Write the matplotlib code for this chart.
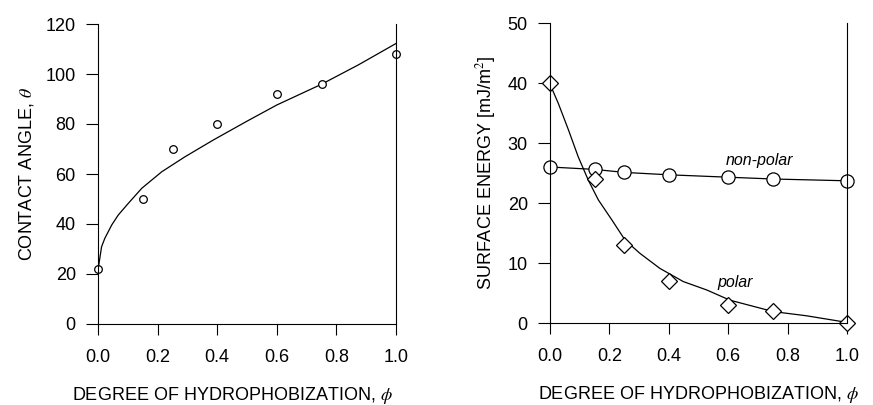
import matplotlib
matplotlib.use("Agg")
import matplotlib.pyplot as plt

plt.rcParams['font.family'] = ['Liberation Sans', 'DejaVu Sans']
plt.rcParams['mathtext.fontset'] = 'stix'

# Left panel: contact angle
phi_pts = [0.0, 0.15, 0.25, 0.4, 0.6, 0.75, 1.0]
theta_pts = [22, 50, 70, 80, 92, 96, 108]
fit_x = [0.0, 0.001, 0.012, 0.023, 0.046, 0.068, 0.102, 0.147, 0.214, 0.292,
         0.387, 0.498, 0.6, 0.75, 0.873, 1.0]
fit_theta = [22.0, 22.3, 30.9, 34.3, 39.6, 43.6, 48.3, 54.3, 60.9, 66.9,
             73.6, 81.0, 87.6, 95.9, 103.6, 112.2]

# Right panel: surface energy
nonpolar = [26.0, 25.6, 25.1, 24.7, 24.3, 24.0, 23.7]
polar = [40.0, 24.0, 13.0, 7.0, 3.0, 2.0, 0.0]
polar_fit_x = [0.0, 0.028, 0.062, 0.095, 0.129, 0.163, 0.208, 0.253, 0.303,
               0.370, 0.449, 0.528, 0.606, 0.752, 0.864, 1.0]
polar_fit_y = [39.8, 36.6, 32.2, 27.7, 23.8, 20.5, 17.2, 13.8, 11.6,
               9.1, 6.9, 5.5, 3.8, 1.9, 1.2, 0.1]

xticks = [0.0, 0.2, 0.4, 0.6, 0.8, 1.0]
xticklabels = ['0.0', '0.2', '0.4', '0.6', '0.8', '1.0']

fig = plt.figure(figsize=(8.73, 4.05), dpi=100)
ax1 = fig.add_axes([98/873, 81/405, 298/873, 300/405])
ax2 = fig.add_axes([550/873, 82/405, 297/873, 300/405])

fs = 13

def style(ax, ylim, yticks):
    ax.spines['top'].set_visible(False)
    for s in ['left', 'right', 'bottom']:
        ax.spines[s].set_linewidth(0.8)
    ax.set_xlim(0, 1.0)
    ax.set_ylim(*ylim)
    ax.set_xticks(xticks)
    ax.set_xticklabels(xticklabels)
    ax.set_yticks(yticks)
    ax.tick_params(direction='out', length=9, width=0.8, labelsize=fs, pad=7)
    ax.tick_params(axis='x', length=8, pad=10)

style(ax1, (0, 120), [0, 20, 40, 60, 80, 100, 120])
ax1.plot(fit_x, fit_theta, color='black', lw=0.9, clip_on=False)
ax1.plot(phi_pts, theta_pts, 'o', ms=5.5, mfc='white', mec='black', mew=0.9, clip_on=False)
ax1.set_ylabel(r'CONTACT ANGLE, $\it{\theta}$', fontsize=fs, labelpad=7)
ax1.set_xlabel(r'DEGREE OF HYDROPHOBIZATION, $\phi$', fontsize=fs, labelpad=14, x=0.45)

style(ax2, (0, 50), [0, 10, 20, 30, 40, 50])
ax2.plot(phi_pts, nonpolar, '-', color='black', lw=0.9, clip_on=False)
ax2.plot(polar_fit_x, polar_fit_y, '-', color='black', lw=0.9, clip_on=False)
ax2.plot(phi_pts, nonpolar, 'o', ms=9.5, mfc='white', mec='black', mew=0.9, clip_on=False)
ax2.plot(phi_pts, polar, 'D', ms=8.5, mfc='white', mec='black', mew=0.9, clip_on=False)
ax2.text(0.705, 27.0, 'non-polar', style='italic', fontsize=11.5, ha='center', va='center')
ax2.text(0.623, 6.8, 'polar', style='italic', fontsize=11.5, ha='center', va='center')
ax2.set_ylabel(r'SURFACE ENERGY [mJ/m$^2$]', fontsize=fs, labelpad=7)
ax2.set_xlabel(r'DEGREE OF HYDROPHOBIZATION, $\phi$', fontsize=fs, labelpad=14)

fig.savefig('out.png', dpi=100)
